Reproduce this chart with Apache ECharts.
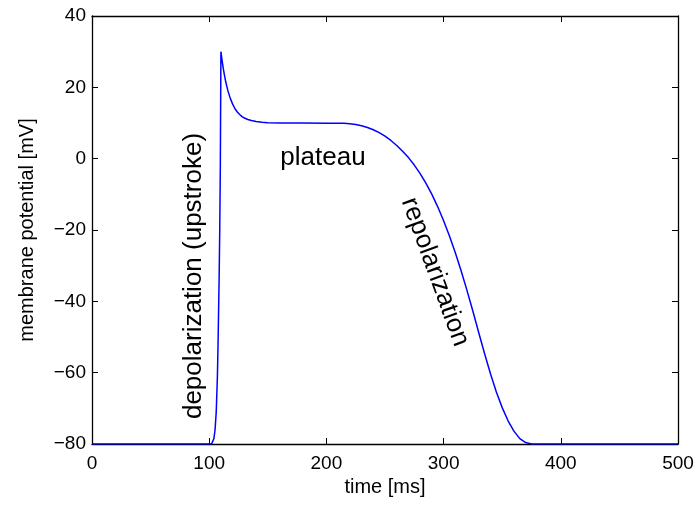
<!DOCTYPE html>
<html>
<head>
<meta charset="utf-8">
<script src="https://cdn.jsdelivr.net/npm/echarts@6/dist/echarts.min.js"></script>
<style>
  html, body { margin: 0; padding: 0; background: #fff; }
  #chart { width: 698px; height: 506px; }
</style>
</head>
<body>
<div id="chart"></div>
<script>
// Action potential trace: time in ms, membrane potential in mV
const timeMs = [
  0, 50, 100, 102, 103, 104, 105, 106, 107, 107.5, 108, 108.5, 109, 109.5, 110,
  111, 112, 113, 114, 115, 116, 118, 120, 122, 124, 126, 128, 130, 133, 136, 140,
  145, 150, 160, 180, 200, 210, 215, 220, 225, 230, 235, 240, 245, 250, 255, 260, 265,
  270, 275, 280, 285, 290, 295, 300, 305, 310, 315, 320, 325, 330, 335, 340, 345,
  350, 355, 360, 365, 370, 375, 380, 400, 450, 500
];
const potentialMv = [
  -80, -80, -80, -80, -79.6, -78.5, -76, -71, -61, -53, -43, -33, -20, -2, 30,
  27.5, 25.3, 23.4, 21.7, 20.3, 19.0, 16.9, 15.3, 14.0, 13.1, 12.4, 11.8, 11.4, 11.0, 10.7, 10.4,
  10.2, 10.1, 10.0, 10.0, 9.95, 9.92, 9.9, 9.8, 9.6, 9.25, 8.75, 8.1, 7.3, 6.3, 5.1, 3.7, 2.1,
  0.3, -1.8, -4.2, -6.9, -10.0, -13.5, -17.4, -21.7, -26.4, -31.5, -37.0, -42.8, -48.8, -54.7, -60.3, -65.4,
  -69.8, -73.5, -76.4, -78.5, -79.6, -80, -80, -80, -80, -80
];

const xTicks = { min: 0, max: 500, interval: 100 };
const yTicks = { min: -80, max: 40, interval: 20 };

const annotations = [
  { text: 'depolarization (upstroke)', x: 194, y: 276, angle: 90 },
  { text: 'plateau', x: 323, y: 158, angle: 0 },
  { text: 'repolarization', x: 435, y: 272, angle: -70 }
];

const FONT = '"Liberation Sans", Arial, Helvetica, sans-serif';
const minus = v => String(v).replace('-', '\u2212');

const chart = echarts.init(document.getElementById('chart'), null, { renderer: 'canvas' });

const axisLine = { show: true, onZero: false, lineStyle: { color: '#000', width: 1.3 } };
const tickIn = { show: true, inside: true, length: 6, lineStyle: { color: '#000', width: 1 } };

chart.setOption({
  animation: false,
  backgroundColor: '#fff',
  grid: { left: 92, right: 20, top: 16, bottom: 62, containLabel: false },
  xAxis: [
    {
      type: 'value', position: 'bottom',
      min: xTicks.min, max: xTicks.max, interval: xTicks.interval,
      name: 'time [ms]', nameLocation: 'middle', nameGap: 33,
      nameTextStyle: { fontFamily: FONT, fontSize: 20, color: '#000' },
      axisLine: axisLine, axisTick: tickIn,
      axisLabel: { fontFamily: FONT, fontSize: 19, color: '#000', margin: 10, formatter: minus },
      splitLine: { show: false }
    },
    {
      type: 'value', position: 'top',
      min: xTicks.min, max: xTicks.max, interval: xTicks.interval,
      axisLine: axisLine, axisTick: tickIn,
      axisLabel: { show: false }, splitLine: { show: false }
    }
  ],
  yAxis: [
    {
      type: 'value', position: 'left',
      min: yTicks.min, max: yTicks.max, interval: yTicks.interval,
      name: 'membrane potential [mV]', nameLocation: 'middle', nameGap: 55,
      nameTextStyle: { fontFamily: FONT, fontSize: 20, color: '#000' },
      axisLine: axisLine, axisTick: tickIn,
      axisLabel: { fontFamily: FONT, fontSize: 19, color: '#000', margin: 6, formatter: minus },
      splitLine: { show: false }
    },
    {
      type: 'value', position: 'right',
      min: yTicks.min, max: yTicks.max, interval: yTicks.interval,
      axisLine: axisLine, axisTick: tickIn,
      axisLabel: { show: false }, splitLine: { show: false }
    }
  ],
  series: [{
    type: 'line',
    xAxisIndex: 0, yAxisIndex: 0,
    data: timeMs.map((t, i) => [t, potentialMv[i]]),
    showSymbol: false,
    smooth: false,
    z: 10,
    lineStyle: { color: '#0000ff', width: 1.5 }
  }],
  graphic: annotations.map(a => ({
    type: 'text',
    x: a.x, y: a.y,
    rotation: a.angle * Math.PI / 180,
    style: {
      text: a.text, fontFamily: FONT, fontSize: 26, fill: '#000',
      align: 'center', verticalAlign: 'middle'
    },
    z: 20
  }))
});
</script>
</body>
</html>
